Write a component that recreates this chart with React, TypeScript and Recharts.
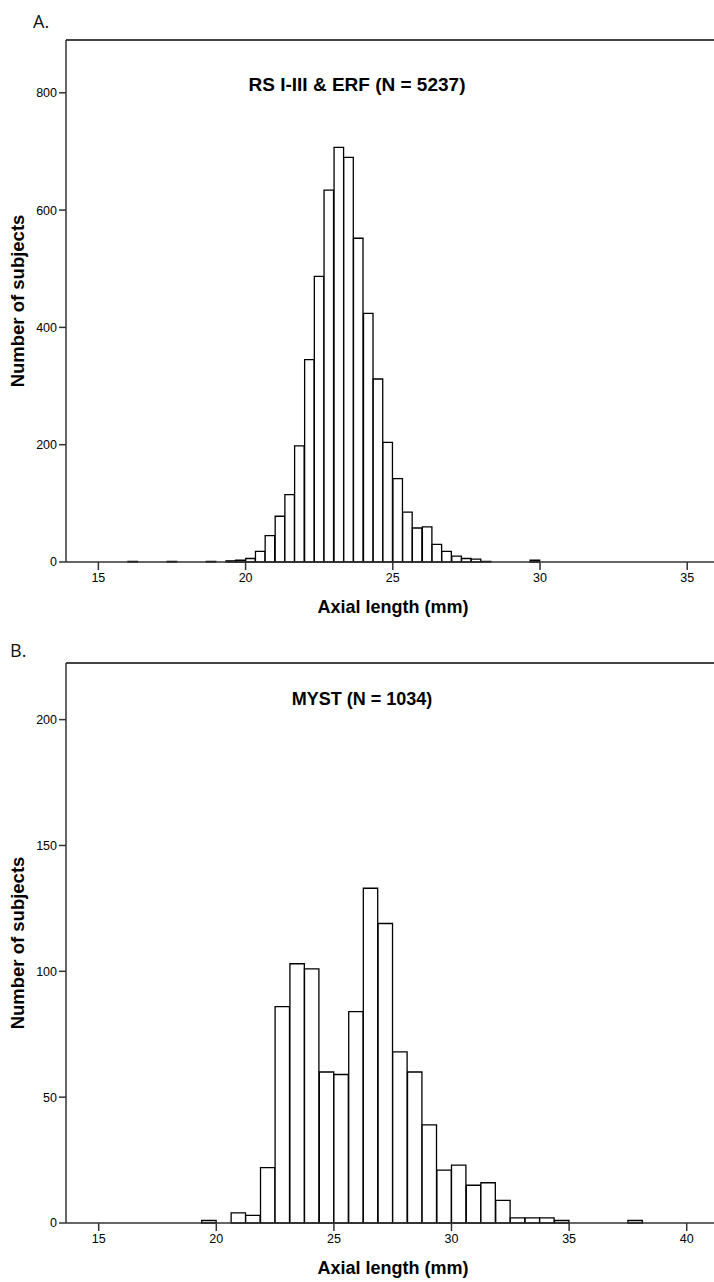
import { BarChart, Bar, XAxis, YAxis, ReferenceLine } from 'recharts'

const PAGE_W = 714
const FONT = '"Liberation Sans", Arial, sans-serif'

// A. RS I-III & ERF, bins 1/3 mm wide (bin centres, counts)
const binWidthA = 1 / 3
const binMidA = [16.17, 17.5, 18.83, 19.5, 19.83, 20.17, 20.5, 20.83, 21.17, 21.5, 21.83, 22.17, 22.5, 22.83, 23.17, 23.5, 23.83, 24.17, 24.5, 24.83, 25.17, 25.5, 25.83, 26.17, 26.5, 26.83, 27.17, 27.5, 27.83, 28.17, 29.83]
const countA = [1, 1, 1, 2, 3, 6, 18, 45, 78, 115, 198, 345, 487, 634, 707, 690, 552, 424, 312, 204, 142, 85, 58, 60, 30, 18, 10, 6, 5, 1, 3]
const xTicksA = [15, 20, 25, 30, 35]
const yTicksA = [0, 200, 400, 600, 800]

// B. MYST, bins 0.625 mm wide
const binWidthB = 0.625
const binMidB = [19.69, 20.94, 21.56, 22.19, 22.81, 23.44, 24.06, 24.69, 25.31, 25.94, 26.56, 27.19, 27.81, 28.44, 29.06, 29.69, 30.31, 30.94, 31.56, 32.19, 32.81, 33.44, 34.06, 34.69, 37.81]
const countB = [1, 4, 3, 22, 86, 103, 101, 60, 59, 84, 133, 119, 68, 60, 39, 21, 23, 15, 16, 9, 2, 2, 2, 1, 1]
const xTicksB = [15, 20, 25, 30, 35, 40]
const yTicksB = [0, 50, 100, 150, 200]

type PanelProps = {
  mids: number[]
  counts: number[]
  bin: number
  xDomain: [number, number]
  xTicks: number[]
  yMax: number
  yTicks: number[]
  height: number
  top: number
  bottom: number
  letter: string
  letterPos: [number, number]
  title: string
  titleSize: number
  titlePos: [number, number]
  xLabelY: number
}

const Y_AXIS_W = 46
const LEFT_MARGIN = 20

function Histogram(p: PanelProps) {
  const data = p.mids.map((x, i) => ({ x, n: p.counts[i] }))
  const plotW = PAGE_W - LEFT_MARGIN - Y_AXIS_W
  const barPx = (plotW * p.bin) / (p.xDomain[1] - p.xDomain[0]) - 0.3
  const plotMidY = p.top + (p.height - p.top - p.bottom - 30) / 2

  return (
    <BarChart
      width={PAGE_W}
      height={p.height}
      data={data}
      margin={{ top: p.top, right: 0, left: LEFT_MARGIN, bottom: p.bottom }}
    >
      <XAxis
        dataKey="x"
        type="number"
        domain={p.xDomain}
        ticks={p.xTicks}
        height={30}
        tickSize={8}
        tickMargin={3}
        tick={{ fontSize: 12.5, fill: '#000', fontFamily: FONT }}
        axisLine={{ stroke: '#333', strokeWidth: 1.5 }}
        tickLine={{ stroke: '#333', strokeWidth: 1.5 }}
      />
      <YAxis
        type="number"
        domain={[0, p.yMax]}
        ticks={p.yTicks}
        width={Y_AXIS_W}
        tickSize={7}
        tickMargin={2}
        tick={{ fontSize: 12.5, fill: '#000', fontFamily: FONT }}
        axisLine={{ stroke: '#333', strokeWidth: 1.5 }}
        tickLine={{ stroke: '#333', strokeWidth: 1.5 }}
      />
      {/* top edge of the frame */}
      <ReferenceLine y={p.yMax} stroke="#444" strokeWidth={2} />
      <Bar
        dataKey="n"
        fill="#fff"
        stroke="#000"
        strokeWidth={1.3}
        barSize={barPx}
        isAnimationActive={false}
      />
      <text x={p.letterPos[0]} y={p.letterPos[1]} fontSize={18} fontFamily='"Open Sans", sans-serif' fill="#111">
        {p.letter}
      </text>
      <text x={p.titlePos[0]} y={p.titlePos[1]} textAnchor="middle" fontSize={p.titleSize} fontWeight="bold" fontFamily={FONT} fill="#000">
        {p.title}
      </text>
      <text x={393} y={p.xLabelY} textAnchor="middle" fontSize={18} fontWeight="bold" fontFamily={FONT} fill="#000">
        Axial length (mm)
      </text>
      <text
        x={17}
        y={plotMidY}
        dy="0.36em"
        textAnchor="middle"
        transform={`rotate(-90 17 ${plotMidY})`}
        fontSize={18.5}
        fontWeight="bold"
        fontFamily={FONT}
        fill="#000"
      >
        Number of subjects
      </text>
    </BarChart>
  )
}

export default function App() {
  return (
    <div style={{ position: 'absolute', left: 0, top: 0, width: PAGE_W, height: 1282, background: '#fff' }}>
      <Histogram
        mids={binMidA}
        counts={countA}
        bin={binWidthA}
        xDomain={[13.9, 35.91]}
        xTicks={xTicksA}
        yMax={890}
        yTicks={yTicksA}
        height={630}
        top={40}
        bottom={38}
        letter="A."
        letterPos={[33, 28]}
        title="RS I-III & ERF (N = 5237)"
        titleSize={19}
        titlePos={[357, 91]}
        xLabelY={613}
      />
      <Histogram
        mids={binMidB}
        counts={countB}
        bin={binWidthB}
        xDomain={[13.61, 41.16]}
        xTicks={xTicksB}
        yMax={222.5}
        yTicks={yTicksB}
        height={652}
        top={33}
        bottom={29}
        letter="B."
        letterPos={[10, 27]}
        title="MYST (N = 1034)"
        titleSize={18}
        titlePos={[362, 75]}
        xLabelY={644}
      />
    </div>
  )
}
